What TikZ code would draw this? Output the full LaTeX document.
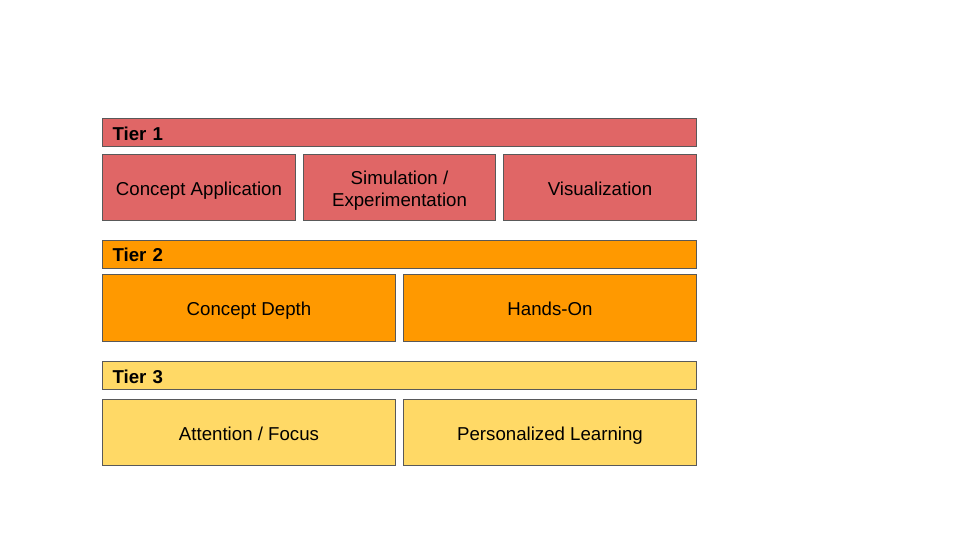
\documentclass[tikz,border=0pt]{standalone}
\usepackage{fontspec}
\setmainfont{Liberation Sans}
\definecolor{tierred}{HTML}{E06666}
\definecolor{tierorange}{HTML}{FF9900}
\definecolor{tieryellow}{HTML}{FFD966}
\definecolor{edgegray}{HTML}{595959}
\tikzset{cell/.style = {draw=edgegray, line width=0.75pt, anchor=north west, align=center, inner sep=0pt, text height=12pt, text depth=0.5pt, font=\fontsize{14}{16.5}\selectfont},
         tierbar/.style = {cell, minimum width=445.5pt, minimum height=21pt, text width=430.5pt, align=left, font=\fontsize{14}{16.5}\selectfont\bfseries}}

\begin{document}
\begin{tikzpicture}[x=0.75pt,y=-0.75pt]
\useasboundingbox (0,0) rectangle (960,540);
% tier 1
\node [tierbar, fill=tierred] (tierone) at (102,118) {Tier 1};
\node [cell, fill=tierred, minimum width=144.75pt, minimum height=49.5pt] (application) at (102,154) {Concept Application};
\node [cell, fill=tierred, minimum width=144pt, minimum height=49.5pt, text height=28.5pt] (simulation) at (303,154) {Simulation /\\Experimentation};
\node [cell, fill=tierred, minimum width=144.75pt, minimum height=49.5pt] (visualization) at (503,154) {Visualization};
% tier 2
\node [tierbar, fill=tierorange] (tiertwo) at (102,239.5) {Tier 2};
\node [cell, fill=tierorange, minimum width=219.75pt, minimum height=50.25pt] (depth) at (102,274) {Concept Depth};
\node [cell, fill=tierorange, minimum width=219.75pt, minimum height=50.25pt] (handson) at (403,274) {Hands-On};
% tier 3
\node [tierbar, fill=tieryellow] (tierthree) at (102,361) {Tier 3};
\node [cell, fill=tieryellow, minimum width=219.75pt, minimum height=49.5pt] (attention) at (102,399) {Attention / Focus};
\node [cell, fill=tieryellow, minimum width=219.75pt, minimum height=49.5pt] (personalized) at (403,399) {Personalized Learning};
\end{tikzpicture}
\end{document}
